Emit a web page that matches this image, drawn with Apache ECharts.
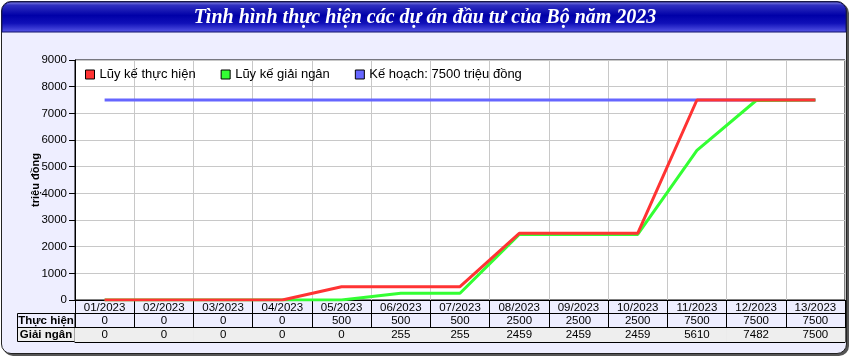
<!DOCTYPE html>
<html>
<head>
<meta charset="utf-8">
<script src="https://cdn.jsdelivr.net/npm/echarts@6/dist/echarts.min.js"></script>
<style>
  html, body { margin: 0; padding: 0; background: #ffffff; }
  #frame { position: absolute; left: 1px; top: 1px; width: 844px; height: 351px;
           border: 1px solid #222; border-radius: 10px; background: #EEEEFF;
           box-shadow: 2px 2px 0 #555; }
  #chart { position: absolute; left: 0; top: 0; width: 850px; height: 360px; }
</style>
</head>
<body>
<div id="frame"></div>
<div id="chart"></div>
<script>
const titleText = 'Tình hình thực hiện các dự án đầu tư của Bộ năm 2023';
const months = ['01/2023','02/2023','03/2023','04/2023','05/2023','06/2023','07/2023','08/2023','09/2023','10/2023','11/2023','12/2023','13/2023'];
const thucHien = [0, 0, 0, 0, 500, 500, 500, 2500, 2500, 2500, 7500, 7500, 7500];
const giaiNgan = [0, 0, 0, 0, 0, 255, 255, 2459, 2459, 2459, 5610, 7482, 7500];
const keHoach = [7500, 7500, 7500, 7500, 7500, 7500, 7500, 7500, 7500, 7500, 7500, 7500, 7500];
const seriesNames = ['Lũy kế thực hiện', 'Lũy kế giải ngân', 'Kế hoạch: 7500 triệu đồng'];
const rowNames = ['Thực hiện', 'Giải ngân'];
const yName = 'triệu đồng';

const FONT = 'Liberation Sans';
const chart = echarts.init(document.getElementById('chart'), null, { renderer: 'canvas' });

const option = {
  backgroundColor: 'transparent',
  animation: false,
  textStyle: { fontFamily: FONT },
  grid: { left: 75, right: 5, top: 60, bottom: 60, show: true, backgroundColor: '#ffffff', borderColor: '#000', borderWidth: 1, containLabel: false },
  legend: {
    left: 85, top: 68, padding: 0, itemWidth: 9, itemHeight: 9, itemGap: 25, itemTextGap: 4,
    icon: 'rect',
    data: seriesNames,
    textStyle: { fontFamily: FONT, fontSize: 13, color: '#000' },
    itemStyle: { borderColor: '#000', borderWidth: 1 }
  },
  xAxis: [
    {
      type: 'category', data: months, position: 'bottom', boundaryGap: true,
      axisLine: { show: true, lineStyle: { color: '#000', width: 1 } },
      axisTick: { show: false },
      axisLabel: { interval: 0, margin: 2, fontSize: 11.5, color: '#000', fontFamily: FONT, lineHeight: 12 },
      splitLine: { show: true, interval: 0, lineStyle: { color: '#c8c8c8', width: 1 } }
    },
    {
      type: 'category', data: thucHien.map(String), position: 'bottom', offset: 13, boundaryGap: true,
      axisLine: { show: true, lineStyle: { color: '#000', width: 1 } },
      axisTick: { show: false },
      axisLabel: { interval: 0, margin: 2, fontSize: 11.5, color: '#000', fontFamily: FONT, lineHeight: 12 },
      splitLine: { show: false }
    },
    {
      type: 'category', data: giaiNgan.map(String), position: 'bottom', offset: 27, boundaryGap: true,
      axisLine: { show: true, lineStyle: { color: '#000', width: 1 } },
      axisTick: { show: false },
      axisLabel: { interval: 0, margin: 1, fontSize: 11.5, color: '#000', fontFamily: FONT,
                   backgroundColor: '#EEEEEE', width: 60, height: 14, lineHeight: 14, align: 'center', padding: 0 },
      splitLine: { show: false }
    },
    {
      type: 'category', data: months, position: 'bottom', offset: 42, boundaryGap: true,
      axisLine: { show: true, lineStyle: { color: '#000', width: 1 } },
      axisTick: { show: true, inside: true, length: 42, interval: 0, lineStyle: { color: '#000', width: 1 } },
      axisLabel: { show: false },
      splitLine: { show: false }
    }
  ],
  yAxis: {
    type: 'value', min: 0, max: 9000, interval: 1000,
    name: yName, nameLocation: 'middle', nameGap: 34, nameRotate: 90, nameMoveOverlap: false,
    nameTextStyle: { fontFamily: FONT, fontSize: 11, fontWeight: 'bold', color: '#000' },
    axisLine: { show: true, lineStyle: { color: '#000', width: 1 } },
    axisTick: { show: true, length: 6, lineStyle: { color: '#000' } },
    axisLabel: { margin: 8, fontSize: 11.5, color: '#000', fontFamily: FONT, formatter: function (v) { return String(v); } },
    splitLine: { show: true, lineStyle: { color: '#c8c8c8', width: 1 } }
  },
  series: [
    { name: seriesNames[2], type: 'line', data: keHoach, showSymbol: false, symbol: 'none',
      itemStyle: { color: '#6666ff' }, lineStyle: { color: '#6666ff', width: 3 }, z: 2 },
    { name: seriesNames[1], type: 'line', data: giaiNgan, showSymbol: false, symbol: 'none',
      itemStyle: { color: '#33ff33' }, lineStyle: { color: '#33ff33', width: 3 }, z: 3 },
    { name: seriesNames[0], type: 'line', data: thucHien, showSymbol: false, symbol: 'none',
      itemStyle: { color: '#ff3333' }, lineStyle: { color: '#ff3333', width: 3 }, z: 4 }
  ],
  graphic: [
    {
      type: 'rect', shape: { x: 2, y: 2, width: 844, height: 30, r: [9, 9, 0, 0] },
      style: {
        fill: new echarts.graphic.LinearGradient(0, 0, 0, 1, [
          { offset: 0, color: '#9090e8' },
          { offset: 0.12, color: '#3030c0' },
          { offset: 0.45, color: '#0000a8' },
          { offset: 0.7, color: '#1010b8' },
          { offset: 1, color: '#5858e8' }
        ]),
        stroke: '#10106a', lineWidth: 1
      }
    },
    {
      type: 'text', left: 'center', top: 8,
      style: { text: titleText, fill: '#ffffff', font: 'italic bold 20px "Liberation Serif"' }
    },
    { type: 'rect', shape: { x: 17.5, y: 327.5, width: 57.5, height: 14 }, style: { fill: '#EEEEEE', stroke: 'none' } },
    { type: 'rect', shape: { x: 17.5, y: 313.5, width: 57.5, height: 28 }, style: { fill: 'none', stroke: '#000', lineWidth: 1 } },
    { type: 'line', shape: { x1: 17.5, y1: 327.5, x2: 75, y2: 327.5 }, style: { stroke: '#000', lineWidth: 1 } },
    { type: 'text', x: 46, y: 320.5, style: { text: rowNames[0], fill: '#000', font: 'bold 11.5px "Liberation Sans"', textAlign: 'center', textVerticalAlign: 'middle' } },
    { type: 'text', x: 46, y: 335, style: { text: rowNames[1], fill: '#000', font: 'bold 11.5px "Liberation Sans"', textAlign: 'center', textVerticalAlign: 'middle' } }
  ]
};
chart.setOption(option);
</script>
</body>
</html>
